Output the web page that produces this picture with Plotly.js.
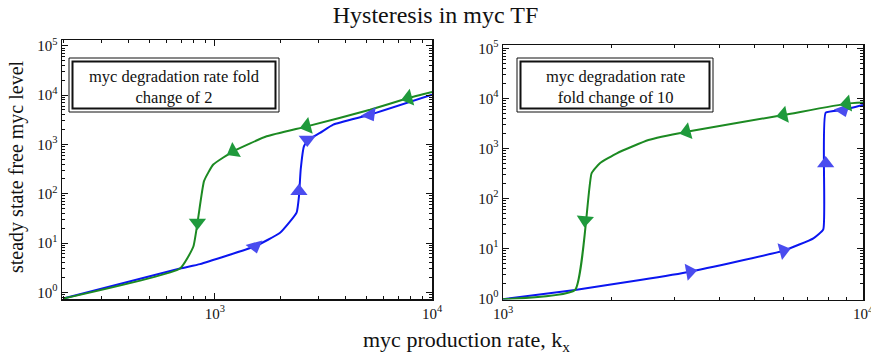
<!DOCTYPE html>
<html><head><meta charset="utf-8">
<script src="https://cdn.plot.ly/plotly-3.0.1.min.js"></script>
<style>html,body{margin:0;padding:0;background:#fff}#chart{width:871px;height:359px}</style>
</head><body><div id="chart"></div>
<script>
// ---- Left panel: degradation fold change 2 ----
const leftGreenX = [10000, 7780, 5180, 2650, 1730, 1215, 982, 890, 795, 690, 200];
const leftGreenY = [11500, 8700, 5030, 2320, 1460, 726, 391, 180, 8.5, 3.05, 0.75];
const leftBlueX = [200, 690, 853, 1528, 1995, 2377, 2438, 2483, 2570, 2692, 3048, 3507, 5180, 10000];
const leftBlueY = [0.75, 3.05, 3.73, 8.6, 16.1, 41.3, 89.4, 310, 915, 1250, 1708, 2510, 3990, 10140];
const leftGreenArrowX = [7780, 2650, 1215, 830];
const leftGreenArrowY = [8700, 2320, 726, 26];
const leftGreenArrowAngle = [255, 255, 240, 180];
const leftBlueArrowX = [1528, 2437, 2663, 5180];
const leftBlueArrowY = [8.6, 112, 1250, 3990];
const leftBlueArrowAngle = [165, 0, 180, 150];

// ---- Right panel: degradation fold change 10 ----
const rightGreenX = [10000, 9020, 6010, 3236, 2535, 2071, 1858, 1762, 1585, 1000];
const rightGreenY = [8300, 7900, 4680, 2168, 1479, 802, 506, 319, 1.48, 0.97];
const rightBlueX = [1000, 1585, 2404, 3305, 6010, 7280, 7757, 7877, 8810, 10000];
const rightBlueY = [0.97, 1.48, 2.34, 3.44, 9.04, 16, 24.2, 5200, 5890, 7400];
const rightGreenArrowX = [9020, 6010, 3236, 1690];
const rightGreenArrowY = [7900, 4680, 2168, 37];
const rightGreenArrowAngle = [260, 258, 255, 185];
const rightBlueArrowX = [3305, 6010, 7877, 8810];
const rightBlueArrowY = [3.44, 9.04, 500, 5890];
const rightBlueArrowAngle = [80, 75, 0, 160];

// ---- Text ----
const chartTitle = 'Hysteresis in myc TF';
const yTitle = 'steady state free myc level';
const xTitle = 'myc production rate, k<sub>x</sub>';
const leftLabel = 'myc degradation rate fold<br>change of 2';
const rightLabel = 'myc degradation rate<br>fold change of 10';
const xTickValsLeft = [1000, 10000];
const xTickTextLeft = ['10<sup>3</sup>', '10<sup>4</sup>'];
const xTickValsRight = [1000, 10000];
const xTickTextRight = ['10<sup>3</sup>', '10<sup>4</sup>'];
const yTickVals = [1, 10, 100, 1000, 10000, 100000];
const yTickText = ['10<sup>0</sup>', '10<sup>1</sup>', '10<sup>2</sup>', '10<sup>3</sup>', '10<sup>4</sup>', '10<sup>5</sup>'];

function minorVals(lo, hi) {
  const out = [];
  for (let e = lo; e <= hi; e++) for (let m = 2; m <= 9; m++) out.push(m * Math.pow(10, e));
  return out;
}

const greenLine = '#1c8a22', greenMark = '#1f9a3c';
const blueLine = '#0b16f0', blueMark = '#4a4cef';

function lineTrace(x, y, color, xa, ya) {
  return {x, y, xaxis: xa, yaxis: ya, mode: 'lines', type: 'scatter',
    line: {color, width: 2, shape: 'spline', smoothing: 0.4}, hoverinfo: 'skip'};
}
function arrowTrace(x, y, ang, color, xa, ya) {
  return {x, y, xaxis: xa, yaxis: ya, mode: 'markers', type: 'scatter',
    marker: {symbol: 'triangle-up', size: 15, color, angle: ang, line: {width: 0}}, hoverinfo: 'skip'};
}

const data = [
  lineTrace(leftBlueX, leftBlueY, blueLine, 'x', 'y'),
  lineTrace(leftGreenX, leftGreenY, greenLine, 'x', 'y'),
  arrowTrace(leftBlueArrowX, leftBlueArrowY, leftBlueArrowAngle, blueMark, 'x', 'y'),
  arrowTrace(leftGreenArrowX, leftGreenArrowY, leftGreenArrowAngle, greenMark, 'x', 'y'),
  lineTrace(rightBlueX, rightBlueY, blueLine, 'x2', 'y2'),
  lineTrace(rightGreenX, rightGreenY, greenLine, 'x2', 'y2'),
  arrowTrace(rightBlueArrowX, rightBlueArrowY, rightBlueArrowAngle, blueMark, 'x2', 'y2'),
  arrowTrace(rightGreenArrowX, rightGreenArrowY, rightGreenArrowAngle, greenMark, 'x2', 'y2')
];

const W = 871, H = 359;
const fx = v => v / W, fy = v => 1 - v / H;

function axisBase(extra) {
  return Object.assign({
    type: 'log', showline: true, linecolor: '#111', linewidth: 1.5, mirror: 'ticks',
    ticks: 'inside', ticklen: 6, tickwidth: 1, tickcolor: '#111',
    showgrid: false, zeroline: false, tickmode: 'array', fixedrange: true,
    ticklabeloverflow: 'allow',
    tickfont: {size: 15, color: '#111'}
  }, extra);
}

const layout = {
  width: W, height: H, margin: {l: 0, r: 0, t: 0, b: 0},
  paper_bgcolor: '#fff', plot_bgcolor: '#fff', showlegend: false,
  font: {family: '"Liberation Serif", "Times New Roman", serif', color: '#111', size: 15},
  title: {text: chartTitle, x: 0.5, xanchor: 'center', xref: 'paper', y: 1 - 15 / H, yanchor: 'middle', yref: 'container', font: {size: 24, color: '#111'}},
  xaxis: axisBase({domain: [fx(62), fx(432)], range: [2.295, 4.0], anchor: 'y', tickvals: xTickValsLeft, ticktext: xTickTextLeft,
    minor: {ticks: 'inside', ticklen: 3, tickcolor: '#111', tickwidth: 1, tickmode: 'array', tickvals: minorVals(2, 3)}}),
  yaxis: axisBase({domain: [fy(299), fy(40)], range: [-0.135, 5.117], anchor: 'x', tickvals: yTickVals, ticktext: yTickText,
    minor: {ticks: 'inside', ticklen: 3, tickcolor: '#111', tickwidth: 1, tickmode: 'array', tickvals: [0.8, 0.9].concat(minorVals(0, 4))}}),
  xaxis2: axisBase({domain: [fx(503), fx(863)], range: [3, 4], anchor: 'y2', tickvals: xTickValsRight, ticktext: xTickTextRight,
    minor: {ticks: 'inside', ticklen: 3, tickcolor: '#111', tickwidth: 1, tickmode: 'array', tickvals: minorVals(3, 3)}}),
  yaxis2: axisBase({domain: [fy(299.5), fy(45)], range: [-0.02, 5.07], anchor: 'x2', tickvals: yTickVals, ticktext: yTickText,
    minor: {ticks: 'inside', ticklen: 3, tickcolor: '#111', tickwidth: 1, tickmode: 'array', tickvals: minorVals(0, 4)}}),
  shapes: [
    {type: 'rect', xref: 'paper', yref: 'paper', x0: fx(69), x1: fx(279), y0: fy(112), y1: fy(58), line: {color: '#111', width: 1}, fillcolor: '#fff', layer: 'above'},
    {type: 'rect', xref: 'paper', yref: 'paper', x0: fx(72.5), x1: fx(275.5), y0: fy(108.5), y1: fy(61.5), line: {color: '#111', width: 2}, layer: 'above'},
    {type: 'rect', xref: 'paper', yref: 'paper', x0: fx(517), x1: fx(713), y0: fy(112), y1: fy(58), line: {color: '#111', width: 1}, fillcolor: '#fff', layer: 'above'},
    {type: 'rect', xref: 'paper', yref: 'paper', x0: fx(520.5), x1: fx(709.5), y0: fy(108.5), y1: fy(61.5), line: {color: '#111', width: 2}, layer: 'above'}
  ],
  annotations: [
    {text: leftLabel, xref: 'paper', yref: 'paper', x: fx(174), y: fy(87), xanchor: 'center', yanchor: 'middle', showarrow: false, align: 'center', font: {size: 16.5, color: '#111'}},
    {text: rightLabel, xref: 'paper', yref: 'paper', x: fx(615), y: fy(87), xanchor: 'center', yanchor: 'middle', showarrow: false, align: 'center', font: {size: 16.5, color: '#111'}},
    {text: yTitle, xref: 'paper', yref: 'paper', x: fx(16), y: fy(167), xanchor: 'center', yanchor: 'middle', textangle: -90, showarrow: false, font: {size: 20, color: '#111'}},
    {text: xTitle, xref: 'paper', yref: 'paper', x: fx(466), y: fy(341), xanchor: 'center', yanchor: 'middle', showarrow: false, font: {size: 22, color: '#111'}}
  ]
};

Plotly.newPlot('chart', data, layout, {displayModeBar: false, staticPlot: true});
</script>
</body></html>
